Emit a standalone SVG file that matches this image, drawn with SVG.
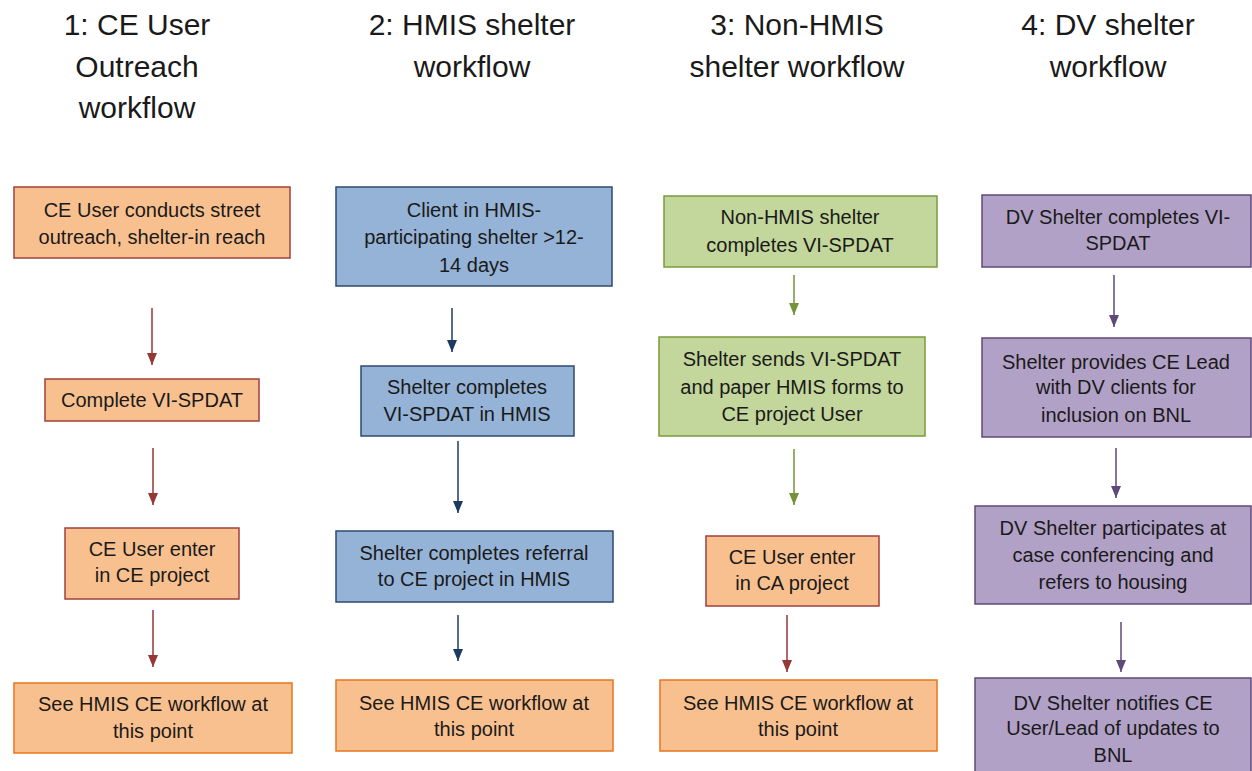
<svg xmlns="http://www.w3.org/2000/svg" width="1252" height="771" viewBox="0 0 1252 771">
<style>
text{font-family:"Liberation Sans",Arial,sans-serif;fill:#1a1a1a;text-anchor:middle}
.t{font-size:30px}
.b{font-size:20px}
.or{fill:#F9C08F;stroke:#A0403D;stroke-width:1.5}
.oo{fill:#F9C08F;stroke:#E6761F;stroke-width:1.5}
.bl{fill:#95B3D7;stroke:#2C4A70;stroke-width:1.5}
.gr{fill:#C3D69B;stroke:#7A9A3E;stroke-width:1.5}
.pu{fill:#B2A1C7;stroke:#5F497A;stroke-width:1.5}
.cr{stroke:#953735;stroke-width:1.5;fill:none}
.cb{stroke:#1F3A60;stroke-width:1.5;fill:none}
.cg{stroke:#76923C;stroke-width:1.5;fill:none}
.cp{stroke:#5F497A;stroke-width:1.5;fill:none}
</style>
<defs>
<marker id="mr" markerUnits="userSpaceOnUse" markerWidth="12" markerHeight="10" refX="12" refY="5" orient="auto"><path d="M0,0 L12,5 L0,10 z" fill="#953735"/></marker>
<marker id="mb" markerUnits="userSpaceOnUse" markerWidth="12" markerHeight="10" refX="12" refY="5" orient="auto"><path d="M0,0 L12,5 L0,10 z" fill="#1F3A60"/></marker>
<marker id="mg" markerUnits="userSpaceOnUse" markerWidth="12" markerHeight="10" refX="12" refY="5" orient="auto"><path d="M0,0 L12,5 L0,10 z" fill="#76923C"/></marker>
<marker id="mp" markerUnits="userSpaceOnUse" markerWidth="12" markerHeight="10" refX="12" refY="5" orient="auto"><path d="M0,0 L12,5 L0,10 z" fill="#5F497A"/></marker>
</defs>
<rect width="1252" height="771" fill="#ffffff"/>
<g id="titles">
<text class="t" x="137" y="35">1: CE User</text>
<text class="t" x="137" y="77">Outreach</text>
<text class="t" x="137" y="118">workflow</text>
<text class="t" x="472" y="35">2: HMIS shelter</text>
<text class="t" x="472" y="77">workflow</text>
<text class="t" x="797" y="35">3: Non-HMIS</text>
<text class="t" x="797" y="77">shelter workflow</text>
<text class="t" x="1108" y="35">4: DV shelter</text>
<text class="t" x="1108" y="77">workflow</text>
</g>
<g id="connectors">
<line class="cr" x1="152" y1="308" x2="152" y2="365" marker-end="url(#mr)"/>
<line class="cr" x1="153" y1="448" x2="153" y2="505" marker-end="url(#mr)"/>
<line class="cr" x1="153" y1="610" x2="153" y2="667" marker-end="url(#mr)"/>
<line class="cb" x1="452" y1="308" x2="452" y2="352" marker-end="url(#mb)"/>
<line class="cb" x1="458" y1="441" x2="458" y2="513" marker-end="url(#mb)"/>
<line class="cb" x1="458" y1="615" x2="458" y2="661" marker-end="url(#mb)"/>
<line class="cg" x1="794" y1="275" x2="794" y2="315" marker-end="url(#mg)"/>
<line class="cg" x1="794" y1="449" x2="794" y2="505" marker-end="url(#mg)"/>
<line class="cr" x1="787" y1="615" x2="787" y2="672" marker-end="url(#mr)"/>
<line class="cp" x1="1114" y1="275" x2="1114" y2="327" marker-end="url(#mp)"/>
<line class="cp" x1="1116" y1="448" x2="1116" y2="498" marker-end="url(#mp)"/>
<line class="cp" x1="1121" y1="622" x2="1121" y2="672" marker-end="url(#mp)"/>
</g>
<g id="n1a"><rect class="or" x="14" y="187" width="276" height="71"/><text class="b" x="152" y="217">CE User conducts street</text><text class="b" x="152" y="244">outreach, shelter-in reach</text></g>
<g id="n1b"><rect class="or" x="45" y="379" width="214" height="42"/><text class="b" x="152" y="407">Complete VI-SPDAT</text></g>
<g id="n1c"><rect class="or" x="65" y="528" width="174" height="71"/><text class="b" x="152" y="556">CE User enter</text><text class="b" x="152" y="582">in CE project</text></g>
<g id="n1d"><rect class="oo" x="14" y="683" width="278" height="70"/><text class="b" x="153" y="711">See HMIS CE workflow at</text><text class="b" x="153" y="738">this point</text></g>
<g id="n2a"><rect class="bl" x="336" y="187" width="276" height="99"/><text class="b" x="474" y="217">Client in HMIS-</text><text class="b" x="474" y="244">participating shelter &gt;12-</text><text class="b" x="474" y="272">14 days</text></g>
<g id="n2b"><rect class="bl" x="361" y="366" width="213" height="70"/><text class="b" x="467" y="394">Shelter completes</text><text class="b" x="467" y="421">VI-SPDAT in HMIS</text></g>
<g id="n2c"><rect class="bl" x="336" y="531" width="277" height="71"/><text class="b" x="474" y="560">Shelter completes referral</text><text class="b" x="474" y="586">to CE project in HMIS</text></g>
<g id="n2d"><rect class="oo" x="336" y="680" width="277" height="71"/><text class="b" x="474" y="710">See HMIS CE workflow at</text><text class="b" x="474" y="736">this point</text></g>
<g id="n3a"><rect class="gr" x="664" y="196" width="273" height="71"/><text class="b" x="800" y="224">Non-HMIS shelter</text><text class="b" x="800" y="252">completes VI-SPDAT</text></g>
<g id="n3b"><rect class="gr" x="659" y="337" width="266" height="99"/><text class="b" x="792" y="366">Shelter sends VI-SPDAT</text><text class="b" x="792" y="394">and paper HMIS forms to</text><text class="b" x="792" y="421">CE project User</text></g>
<g id="n3c"><rect class="or" x="706" y="536" width="173" height="70"/><text class="b" x="792" y="564">CE User enter</text><text class="b" x="792" y="590">in CA project</text></g>
<g id="n3d"><rect class="oo" x="660" y="680" width="277" height="71"/><text class="b" x="798" y="710">See HMIS CE workflow at</text><text class="b" x="798" y="736">this point</text></g>
<g id="n4a"><rect class="pu" x="982" y="195" width="269" height="72"/><text class="b" x="1118" y="224">DV Shelter completes VI-</text><text class="b" x="1118" y="250">SPDAT</text></g>
<g id="n4b"><rect class="pu" x="982" y="338" width="269" height="99"/><text class="b" x="1116" y="369">Shelter provides CE Lead</text><text class="b" x="1116" y="394">with DV clients for</text><text class="b" x="1116" y="422">inclusion on BNL</text></g>
<g id="n4c"><rect class="pu" x="975" y="506" width="276" height="98"/><text class="b" x="1113" y="535">DV Shelter participates at</text><text class="b" x="1113" y="562">case conferencing and</text><text class="b" x="1113" y="589">refers to housing</text></g>
<g id="n4d"><rect class="pu" x="975" y="678" width="276" height="100"/><text class="b" x="1113" y="710">DV Shelter notifies CE</text><text class="b" x="1113" y="735">User/Lead of updates to</text><text class="b" x="1113" y="762">BNL</text></g>
</svg>
